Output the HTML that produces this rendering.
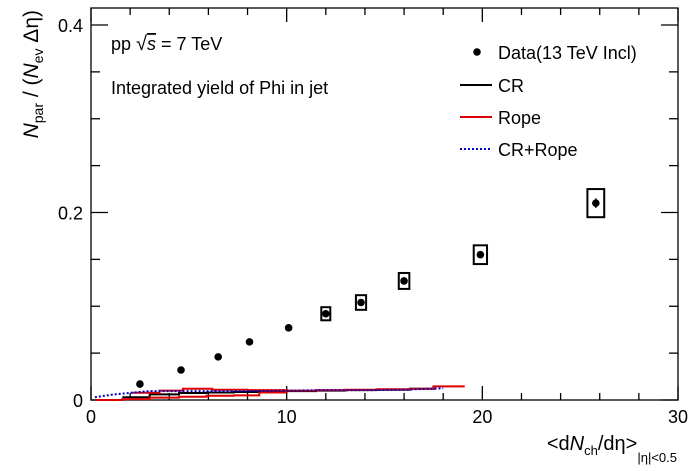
<!DOCTYPE html>
<html><head><meta charset="utf-8"><style>
body{margin:0;background:#fff}
svg{display:block;font-family:"Liberation Sans",sans-serif}
</style></head><body>
<svg id="c" width="698" height="471"></svg>
<script>
const dataX=[2.5,4.6,6.5,8.1,10.1,12.0,13.8,16.0,19.9,25.8];
const dataY=[0.017,0.032,0.046,0.062,0.077,0.092,0.104,0.127,0.155,0.210];
const statErr=[0.001,0.001,0.001,0.001,0.002,0.002,0.002,0.002,0.003,0.005];
const sysHalfX=[0,0,0,0,0,0.23,0.26,0.27,0.34,0.43];
const sysHalfY=[0,0,0,0,0,0.007,0.0078,0.0085,0.010,0.015];
const ropeUpperEdges=[2.1,3.5,4.7,6.2,8.0,10.0,11.5,13.0,14.6,16.3,17.5,19.1];
const ropeUpperVals=[0.0078,0.010,0.012,0.011,0.0105,0.010,0.0105,0.011,0.0115,0.012,0.0146];
const ropeLowerEdges=[0.2,1.6,3.0,4.5,5.9,7.3,8.6,10.0];
const ropeLowerVals=[0.0,0.001,0.0025,0.0035,0.0045,0.005,0.008];
const crEdges=[1.6,3.0,4.5,5.9,7.3,8.6,10.0,11.5,13.0,14.6,16.3,17.6];
const crVals=[0.003,0.006,0.0075,0.008,0.0085,0.009,0.0095,0.010,0.0105,0.011,0.012];
const blueX=[0.2,1.2,2.2,3.0,5.0,8.0,10.0,12.0,14.0,16.0,18.0];
const blueY=[0.003,0.006,0.008,0.0095,0.0095,0.0095,0.010,0.0105,0.0105,0.011,0.0125];
const xTicks=[0,10,20,30], yTicks=[0,0.2,0.4];
const yTickLabels=["0","0.2","0.4"];
const L=91,R=678,T=8,B=400;
const sx=v=>L+v*(R-L)/30, sy=v=>B-v*(B-25)/0.4;
const S=document.getElementById('c'),NS='http://www.w3.org/2000/svg';
function mk(t,a,p){const e=document.createElementNS(NS,t);for(const k in a)e.setAttribute(k,a[k]);(p||S).appendChild(e);return e;}
let e;
e=mk('rect',{x:L,y:T,width:R-L,height:B-T,fill:'none',stroke:'#000','stroke-width':1.3});

for(let v=0;v<=30;v+=2){const maj=v%10==0,len=maj?14:7;
mk('line',{x1:sx(v),x2:sx(v),y1:B,y2:B-len,stroke:'#000','stroke-width':1.3});
mk('line',{x1:sx(v),x2:sx(v),y1:T,y2:T+len,stroke:'#000','stroke-width':1.3});}
xTicks.forEach(v=>{e=mk('text',{x:sx(v),y:B+23,'font-size':18,'text-anchor':'middle'});e.textContent=v;
});
for(let i=0;i<=8;i++){const v=i*0.05,maj=i%4==0,len=maj?17:9;
mk('line',{x1:L,x2:L+len,y1:sy(v),y2:sy(v),stroke:'#000','stroke-width':1.3});
mk('line',{x1:R,x2:R-len,y1:sy(v),y2:sy(v),stroke:'#000','stroke-width':1.3});}
yTicks.forEach((v,i)=>{e=mk('text',{x:L-8,y:sy(v)+7,'font-size':18,'text-anchor':'end'});e.textContent=yTickLabels[i];
});
function steps(edges,vals,col,name){let d='';for(let i=0;i<vals.length;i++){d+=(i?'L':'M')+sx(edges[i])+','+sy(vals[i])+'L'+sx(edges[i+1])+','+sy(vals[i]);}
const p=mk('path',{d:d,fill:'none',stroke:col,'stroke-width':2});}
steps(crEdges,crVals,'#000','cr-curve');
steps(ropeLowerEdges,ropeLowerVals,'#d00','rope-curve-low');
steps(ropeUpperEdges,ropeUpperVals,'#d00','rope-curve');
e=mk('polyline',{points:blueX.map((x,i)=>sx(x)+','+sy(blueY[i])).join(' '),fill:'none',stroke:'#00c','stroke-width':2,'stroke-dasharray':'2,2'});

dataX.forEach((x,i)=>{if(sysHalfX[i]>0){e=mk('rect',{x:sx(x-sysHalfX[i]),y:sy(dataY[i]+sysHalfY[i]),width:sx(x+sysHalfX[i])-sx(x-sysHalfX[i]),height:sy(dataY[i]-sysHalfY[i])-sy(dataY[i]+sysHalfY[i]),fill:'none',stroke:'#000','stroke-width':2});
}
e=mk('line',{x1:sx(x),x2:sx(x),y1:sy(dataY[i]+statErr[i]),y2:sy(dataY[i]-statErr[i]),stroke:'#000','stroke-width':1.5});

e=mk('circle',{cx:sx(x),cy:sy(dataY[i]),r:3.8,fill:'#000'});
});
function txt(x,y,s,html,name,anchor){const t=mk('text',{x:x,y:y,'font-size':s,'text-anchor':anchor||'start'});t.innerHTML=html;return t;}
txt(111,50,18,'pp <tspan font-size="20">√</tspan><tspan font-style="italic" text-decoration="overline">s</tspan> = 7 TeV','collision-label');
txt(111,94,18,'Integrated yield of Phi in jet','plot-title');
e=mk('circle',{cx:477,cy:52,r:3.8,fill:'#000'});
txt(498,59,18,'Data(13 TeV Incl)','legend-data');
e=mk('line',{x1:460,x2:492,y1:85,y2:85,stroke:'#000','stroke-width':2});
txt(498,92,18,'CR','legend-cr');
e=mk('line',{x1:460,x2:492,y1:117,y2:117,stroke:'#d00','stroke-width':2});
txt(498,124,18,'Rope','legend-rope');
e=mk('line',{x1:460,x2:492,y1:149,y2:149,stroke:'#00c','stroke-width':2,'stroke-dasharray':'2,2'});
txt(498,156,18,'CR+Rope','legend-cr-rope');
txt(677,450,20,'&lt;d<tspan font-style="italic">N</tspan><tspan font-size="13" dy="5">ch</tspan><tspan dy="-5">/dη&gt;</tspan><tspan font-size="13" dy="12">|η|&lt;0.5</tspan>','x-axis-title','end');
const yt=txt(0,0,21,'<tspan font-style="italic">N</tspan><tspan font-size="14" dy="5">par</tspan><tspan dy="-5"> / (</tspan><tspan font-style="italic">N</tspan><tspan font-size="14" dy="5">ev</tspan><tspan dy="-5"> Δη)</tspan>','y-axis-title','end');
yt.setAttribute('transform','translate(38,10) rotate(-90)');
</script>
</body></html>
